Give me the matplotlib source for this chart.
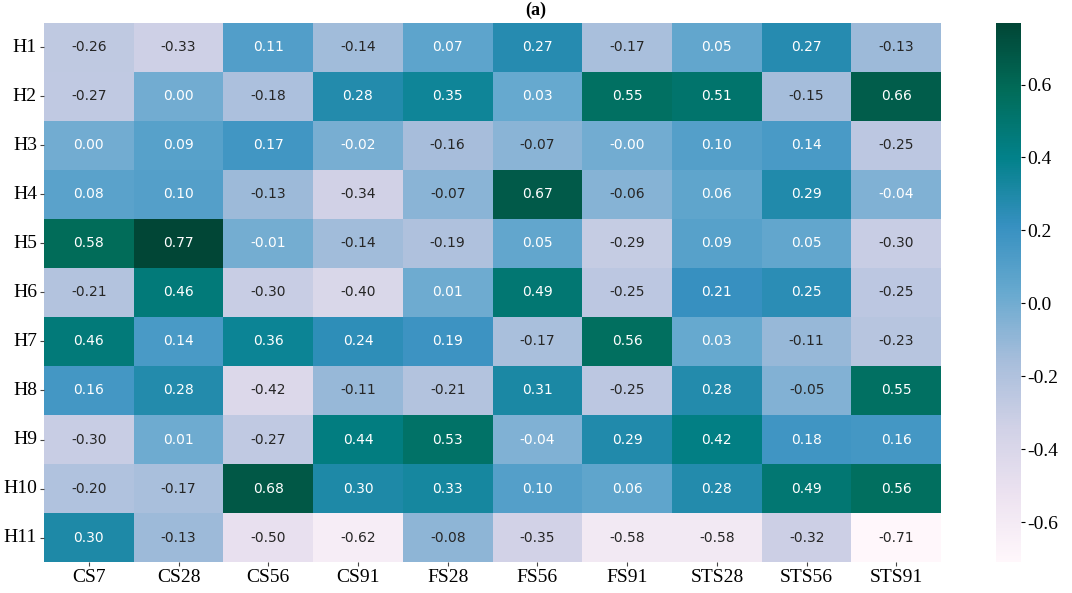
import numpy as np
import pandas as pd
import matplotlib
matplotlib.use('Agg')
import matplotlib.pyplot as plt
import seaborn as sns

plt.rcParams['axes.unicode_minus'] = False

cols = ['CS7', 'CS28', 'CS56', 'CS91', 'FS28', 'FS56', 'FS91', 'STS28', 'STS56', 'STS91']
rows = ['H1', 'H2', 'H3', 'H4', 'H5', 'H6', 'H7', 'H8', 'H9', 'H10', 'H11']

h1 = [-0.26, -0.33, 0.11, -0.14, 0.07, 0.27, -0.17, 0.05, 0.27, -0.13]
h2 = [-0.27, 0.00, -0.18, 0.28, 0.35, 0.03, 0.55, 0.51, -0.15, 0.66]
h3 = [0.00, 0.09, 0.17, -0.02, -0.16, -0.07, -0.001, 0.10, 0.14, -0.25]
h4 = [0.08, 0.10, -0.13, -0.34, -0.07, 0.67, -0.06, 0.06, 0.29, -0.04]
h5 = [0.58, 0.77, -0.01, -0.14, -0.19, 0.05, -0.29, 0.09, 0.05, -0.30]
h6 = [-0.21, 0.46, -0.30, -0.40, 0.01, 0.49, -0.25, 0.21, 0.25, -0.25]
h7 = [0.46, 0.14, 0.36, 0.24, 0.19, -0.17, 0.56, 0.03, -0.11, -0.23]
h8 = [0.16, 0.28, -0.42, -0.11, -0.21, 0.31, -0.25, 0.28, -0.05, 0.55]
h9 = [-0.30, 0.01, -0.27, 0.44, 0.53, -0.04, 0.29, 0.42, 0.18, 0.16]
h10 = [-0.20, -0.17, 0.68, 0.30, 0.33, 0.10, 0.06, 0.28, 0.49, 0.56]
h11 = [0.30, -0.13, -0.50, -0.62, -0.08, -0.35, -0.58, -0.58, -0.32, -0.71]

df = pd.DataFrame([h1, h2, h3, h4, h5, h6, h7, h8, h9, h10, h11], index=rows, columns=cols)

fig = plt.figure(figsize=(10.72, 5.93), dpi=100)
ax = fig.add_axes([0.041, 0.052, 0.837, 0.910])
cax = fig.add_axes([0.929, 0.052, 0.023, 0.910])

sns.heatmap(df, ax=ax, cbar_ax=cax, cmap='PuBuGn', annot=True, fmt='.2f',
            annot_kws={'fontsize': 10})

for lab in ax.get_xticklabels():
    lab.set_fontfamily('Liberation Serif')
    lab.set_fontsize(14)
for lab in ax.get_yticklabels():
    lab.set_fontfamily('Liberation Serif')
    lab.set_fontsize(14)
    lab.set_rotation(0)
ax.tick_params(length=3, width=0.8, color='#444444', pad=2)

cax.set_yticks([-0.6, -0.4, -0.2, 0.0, 0.2, 0.4, 0.6])
cax.yaxis.set_major_formatter(matplotlib.ticker.FormatStrFormatter('%.1f'))
for lab in cax.get_yticklabels():
    lab.set_fontfamily('Liberation Serif')
    lab.set_fontsize(14)
cax.tick_params(length=3, width=0.8, pad=2)

fig.text(0.5, 0.982, '(a)', ha='center', va='center', fontsize=13,
         fontweight='bold', fontfamily='Liberation Serif')

fig.savefig('out.png', dpi=100)
